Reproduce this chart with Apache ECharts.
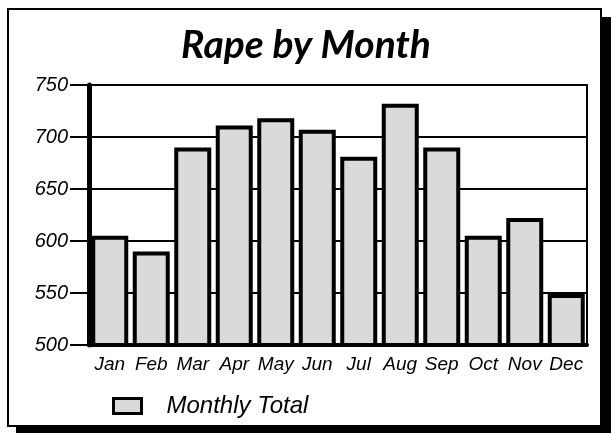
<!DOCTYPE html>
<html>
<head>
<meta charset="utf-8">
<script src="https://cdn.jsdelivr.net/npm/echarts@6/dist/echarts.min.js"></script>
<style>
  html, body { margin: 0; padding: 0; background: #fff; }
  #rape-month-chart { width: 612px; height: 434px; }
</style>
</head>
<body>
<div id="rape-month-chart"></div>
<script>
// data
var months = ['Jan', 'Feb', 'Mar', 'Apr', 'May', 'Jun', 'Jul', 'Aug', 'Sep', 'Oct', 'Nov', 'Dec'];
var monthlyTotal = [605, 590, 690, 711, 718, 707, 681, 732, 690, 605, 622, 549];
var yTicks = [500, 550, 600, 650, 700, 750];

//E-chart --rape by month
function loadRapeMonthChart() {
    var rapeChart = echarts.init(document.getElementById('rape-month-chart'));

    var rapeOption = {
        animation: false,
        backgroundColor: '#fff',
        title: {
            text: 'Rape by Month',
            left: 'center',
            top: 21,
            textStyle: {
                fontFamily: 'Lato',
                fontStyle: 'italic',
                fontWeight: 'bold',
                fontSize: 39,
                color: '#000'
            }
        },
        // page frame with its drop shadow
        graphic: [{
            type: 'rect',
            z: -2,
            shape: { x: 16, y: 17, width: 595, height: 416 },
            style: { fill: '#000' }
        }, {
            type: 'rect',
            z: -1,
            shape: { x: 8, y: 9, width: 593, height: 417 },
            style: { fill: '#fff', stroke: '#000', lineWidth: 2 }
        }],
        legend: {
            left: 107,
            top: 389,
            icon: 'rect',
            itemWidth: 28,
            itemHeight: 15,
            data: ['Monthly Total'],
            itemStyle: {
                color: '#dadada',
                borderColor: '#000',
                borderWidth: 3
            },
            textStyle: {
                fontFamily: 'Liberation Sans',
                fontStyle: 'italic',
                fontSize: 24,
                color: '#000',
                padding: [0, 0, 0, 20]
            }
        },
        grid: {
            left: 89,
            right: 25,
            top: 85,
            bottom: 89,
            show: true,
            borderColor: '#000',
            borderWidth: 2,
            backgroundColor: 'transparent'
        },
        xAxis: {
            type: 'category',
            data: months,
            axisLine: { lineStyle: { color: '#000', width: 4 } },
            axisTick: { show: false },
            axisLabel: {
                interval: 0,
                margin: 10,
                fontFamily: 'Liberation Sans',
                fontStyle: 'italic',
                fontSize: 19,
                color: '#000'
            }
        },
        yAxis: {
            type: 'value',
            min: yTicks[0],
            max: yTicks[yTicks.length - 1],
            interval: 50,
            axisLine: { show: true, lineStyle: { color: '#000', width: 5 } },
            axisTick: { show: true, length: 19, lineStyle: { color: '#000', width: 2 } },
            splitLine: { lineStyle: { color: '#000', width: 2 } },
            axisLabel: {
                margin: 21,
                fontFamily: 'Liberation Sans',
                fontStyle: 'italic',
                fontSize: 20,
                color: '#000'
            }
        },
        series: [{
            name: 'Monthly Total',
            type: 'bar',
            barWidth: 37,
            data: monthlyTotal,
            itemStyle: {
                color: '#dadada',
                borderColor: '#000',
                borderWidth: 4
            }
        }]
    };

    rapeChart.setOption(rapeOption);
}

loadRapeMonthChart();
</script>
</body>
</html>
